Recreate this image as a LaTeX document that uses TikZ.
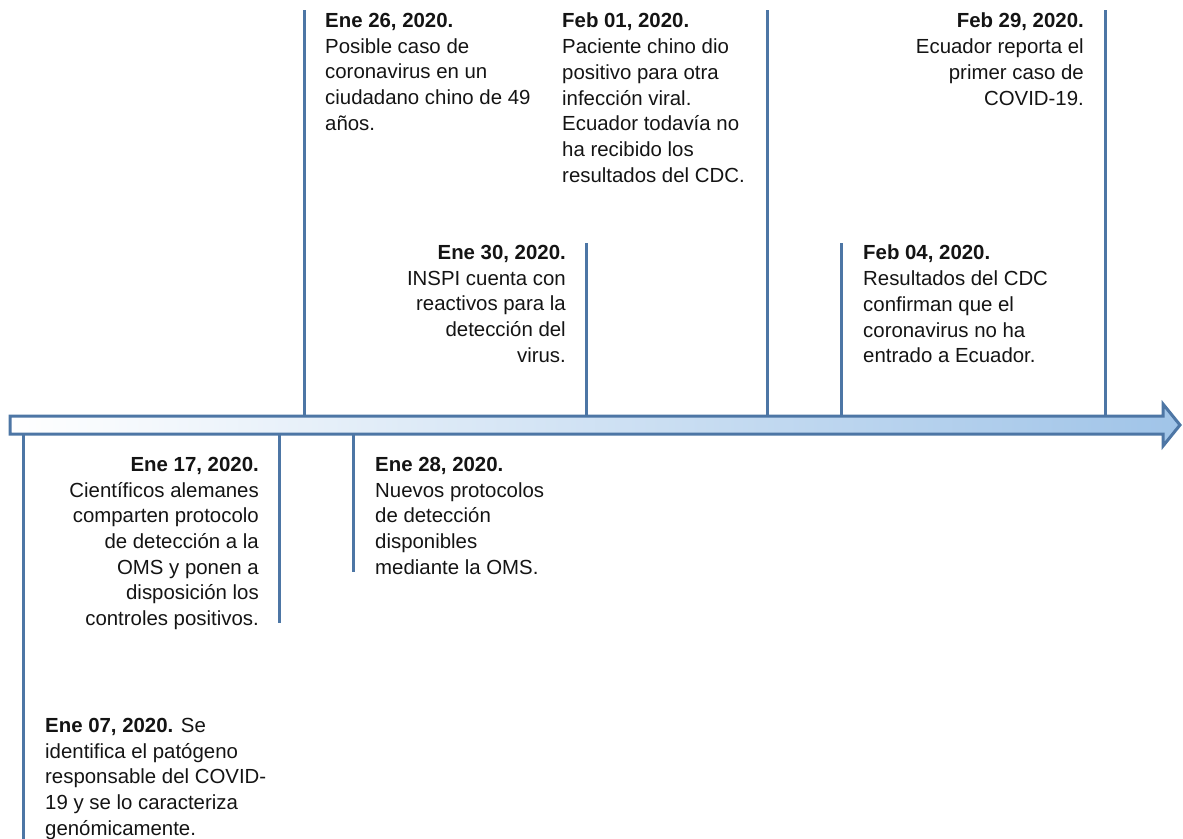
\documentclass[tikz,border=0pt]{standalone}
\usepackage{fontspec}
\setmainfont{Liberation Sans}
\definecolor{linecol}{RGB}{77,118,165}
\definecolor{arrowright}{RGB}{160,196,232}
\definecolor{txtcol}{RGB}{20,20,20}
\begin{document}
\begin{tikzpicture}[x=1pt,y=-1pt,
  tick/.style={draw=linecol,line width=3pt},
  evtxt/.style={inner sep=0pt,text=txtcol,font=\fontsize{20.4}{25.7}\selectfont},
  evl/.style={evtxt,anchor=north west,align=left},
  evr/.style={evtxt,anchor=north east,align=right}]
\useasboundingbox (0,0) rectangle (1183,838);
% tick end points
\coordinate (t07a) at (23,434);  \coordinate (t07b) at (23,840);
\coordinate (t17a) at (279,434); \coordinate (t17b) at (279,623);
\coordinate (t26a) at (304,416); \coordinate (t26b) at (304,10);
\coordinate (t28a) at (353,434); \coordinate (t28b) at (353,572);
\coordinate (t30a) at (586,416); \coordinate (t30b) at (586,243);
\coordinate (f01a) at (767,416); \coordinate (f01b) at (767,10);
\coordinate (f04a) at (841,416); \coordinate (f04b) at (841,243);
\coordinate (f29a) at (1105,416); \coordinate (f29b) at (1105,10);
\foreach \t in {t07,t17,t26,t28,t30,f01,f04,f29}{\draw[tick] (\t a) -- (\t b);}
% timeline arrow
\path[draw=linecol,line width=3pt,line join=miter,left color=white,right color=arrowright]
  (10,416) -- (1163,416) -- (1163,404) -- (1180,425) -- (1163,446) -- (1163,434) -- (10,434) -- cycle;
% texts
\node[evl] (e26) at (325,13) {\textbf{Ene 26, 2020.}\\Posible caso de\\coronavirus en un\\ciudadano chino de 49\\años.};
\node[evl] (e01) at (562,13) {\textbf{Feb 01, 2020.}\\Paciente chino dio\\positivo para otra\\infección viral.\\Ecuador todavía no\\ha recibido los\\resultados del CDC.};
\node[evr] (e29) at (1084,13) {\textbf{Feb 29, 2020.}\\Ecuador reporta el\\primer caso de\\COVID-19.};
\node[evr] (e30) at (566,245) {\textbf{Ene 30, 2020.}\\INSPI cuenta con\\reactivos para la\\detección del\\virus.};
\node[evl] (e04) at (863,245) {\textbf{Feb 04, 2020.}\\Resultados del CDC\\confirman que el\\coronavirus no ha\\entrado a Ecuador.};
\node[evr] (e17) at (259,457) {\textbf{Ene 17, 2020.}\\Científicos alemanes\\comparten protocolo\\de detección a la\\OMS y ponen a\\disposición los\\controles positivos.};
\node[evl] (e28) at (375,457) {\textbf{Ene 28, 2020.}\\Nuevos protocolos\\de detección\\disponibles\\mediante la OMS.};
\node[evl] (e07) at (45,718) {\textbf{Ene 07, 2020.} Se\\identifica el patógeno\\responsable del COVID-\\19 y se lo caracteriza\\genómicamente.};
\end{tikzpicture}
\end{document}
